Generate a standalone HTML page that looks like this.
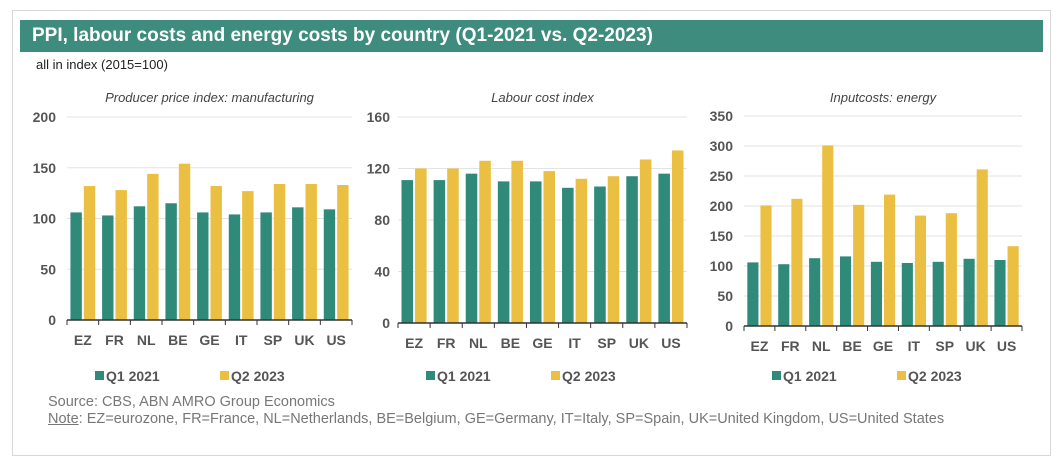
<!DOCTYPE html>
<html><head><meta charset="utf-8"><style>
body{margin:0;width:1063px;height:464px;background:#fff;font-family:"Liberation Sans",sans-serif;overflow:hidden}
#frame{position:absolute;left:12px;top:10px;width:1037px;height:444px;border:1px solid #d8d8d8}
#title{position:absolute;left:20px;top:20px;width:1023px;height:32px;background:#3d8c7e;color:#fff;font-size:19px;font-weight:bold;line-height:32px;padding-left:12px;box-sizing:border-box}
#sub{position:absolute;left:36px;top:57px;font-size:13px;color:#222}
.foot{position:absolute;left:48px;font-size:14.5px;color:#777}
</style></head><body>
<div id="frame"></div>
<div id="title">PPI, labour costs and energy costs by country (Q1-2021 vs. Q2-2023)</div>
<div id="sub">all in index (2015=100)</div>
<svg id="svg" width="1063" height="464" style="position:absolute;left:0;top:0"></svg>
<div class="foot" style="top:394px">Source: CBS, ABN AMRO Group Economics</div>
<div class="foot" style="top:411px"><u>Note</u>: EZ=eurozone, FR=France, NL=Netherlands, BE=Belgium, GE=Germany, IT=Italy, SP=Spain, UK=United Kingdom, US=United States</div>
<script>
const categories=["EZ","FR","NL","BE","GE","IT","SP","UK","US"];
const seriesNames=["Q1 2021","Q2 2023"];
const ppiQ1=[106,103,112,115,106,104,106,111,109];
const ppiQ2=[132,128,144,154,132,127,134,134,133];
const ppiTicks=[0,50,100,150,200];
const labQ1=[111,111,116,110,110,105,106,114,116];
const labQ2=[120,120,126,126,118,112,114,127,134];
const labTicks=[0,40,80,120,160];
const enQ1=[106,103,113,116,107,105,107,112,110];
const enQ2=[201,212,301,202,219,184,188,261,133];
const enTicks=[0,50,100,150,200,250,300,350];
const colors=["#2f8a7a","#ebbf42"];
const svg=document.getElementById('svg');
const NS="http://www.w3.org/2000/svg";
function mk(t,a,txt){const e=document.createElementNS(NS,t);for(const k in a)e.setAttribute(k,a[k]);if(txt!=null)e.textContent=txt;svg.appendChild(e);return e;}
function panel(id,title,x0,x1,yTop,yBot,ticks,s1,s2,labelX){
  const max=ticks[ticks.length-1];
  const y=v=>yBot-(v/max)*(yBot-yTop);
  const t=mk('text',{x:(x0+x1)/2,y:102,'text-anchor':'middle','font-size':13,'font-style':'italic',fill:'#444'},title);
  
  
  ticks.forEach(v=>{
    if(v>0){const g=mk('line',{x1:x0,x2:x1,y1:y(v),y2:y(v),stroke:'#e3e3e3','stroke-width':1});
    
    }
    const l=mk('text',{x:labelX,y:y(v)+5,'text-anchor':'end','font-size':14,'font-weight':'bold',fill:'#555'},v);
    
    
  });
  const n=categories.length,w=(x1-x0)/n,bw=w*0.36;
  categories.forEach((c,i)=>{
    const cx=x0+w*i+w/2;
    [s1[i],s2[i]].forEach((v,j)=>{
      const r=mk('rect',{x:cx-bw-1+j*(bw+2),y:y(v),width:bw,height:yBot-y(v),fill:colors[j]});
      
      
    });
    const l=mk('text',{x:cx,y:yBot+25,'text-anchor':'middle','font-size':14,'font-weight':'bold',fill:'#555'},c);
    
    
  });
  const ax=mk('line',{x1:x0,x2:x1,y1:yBot,y2:yBot,stroke:'#333','stroke-width':1.5});
  
  
  for(let i=0;i<=n;i++){const tk=mk('line',{x1:x0+w*i,x2:x0+w*i,y1:yBot,y2:yBot+5,stroke:'#333'});
    
    }
  const lx=x0+28;
  seriesNames.forEach((s,j)=>{
    const bx=lx+j*125;
    const r=mk('rect',{x:bx,y:371,width:9,height:9,fill:colors[j]});
    
    
    const t=mk('text',{x:bx+11,y:381,'font-size':14,'font-weight':'bold',fill:'#555'},s);
    
    
  });
}
panel('ppi','Producer price index: manufacturing',67,352,117,320,ppiTicks,ppiQ1,ppiQ2,56);
panel('labour','Labour cost index',398,687,117,323,labTicks,labQ1,labQ2,390);
panel('energy','Inputcosts: energy',744,1022,116,326,enTicks,enQ1,enQ2,733);
</script>
</body></html>
